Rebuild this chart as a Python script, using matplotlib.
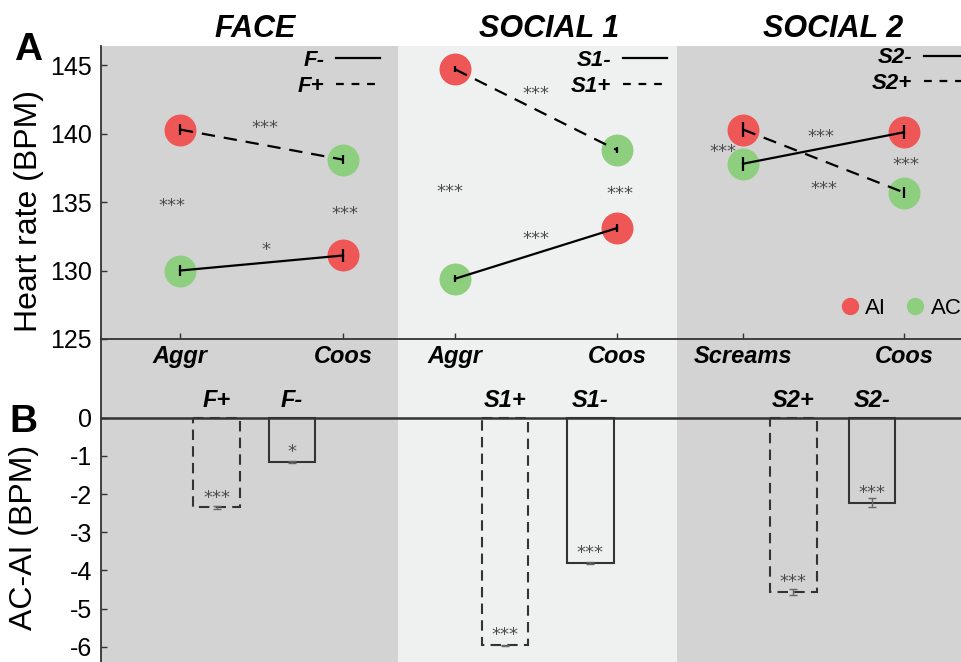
import matplotlib.pyplot as plt
import matplotlib.transforms as mtransforms
from matplotlib.lines import Line2D
from matplotlib.patches import Rectangle

plt.rcParams['font.family'] = ['Liberation Sans', 'DejaVu Sans']
plt.rcParams['axes.unicode_minus'] = False

# heart rate per stimulus (two stimuli per condition)
conditions = ['FACE', 'SOCIAL 1', 'SOCIAL 2']
short = ['F', 'S1', 'S2']
stim_labels = ['Aggr', 'Coos', 'Aggr', 'Coos', 'Screams', 'Coos']
hr_ai = [140.3, 131.1, 144.7, 133.1, 140.3, 140.1]
hr_ai_err = [0.37, 0.5, 0.22, 0.27, 0.55, 0.5]
hr_ac = [130.0, 138.1, 129.4, 138.8, 137.8, 135.7]
hr_ac_err = [0.37, 0.33, 0.25, 0.25, 0.5, 0.43]

# AC-AI differences
diff_plus = [-2.35, -5.96, -4.57]
diff_plus_err = [0.03, 0.01, 0.08]
diff_minus = [-1.15, -3.80, -2.23]
diff_minus_err = [0.03, 0.03, 0.12]
sig_plus = ['***', '***', '***']
sig_minus = ['*', '***', '***']

# significance marks in panel A: (x, y, text)
stars_a = [(1.64, 140.84, '***'), (0.71, 135.13, '***'), (2.44, 134.55, '***'), (1.65, 131.91, '*'),
           (4.35, 143.32, '***'), (3.49, 136.16, '***'), (5.19, 136.01, '***'), (4.35, 132.72, '***'),
           (7.20, 140.13, '***'), (6.22, 139.03, '***'), (8.05, 138.13, '***'), (7.23, 136.38, '***')]

# layout
xpos = [0.79, 2.42, 3.54, 5.16, 6.42, 8.03]
bar_plus_x = [1.155, 4.04, 6.923]
bar_minus_x = [1.91, 4.893, 7.712]
bar_w = 0.465
title_x = [1.54, 4.48, 7.32]
block_edges = [0, 2.97, 5.76, 8.7]
block_colors = ['#d3d3d3', '#eff0f0', '#d3d3d3']
legend_anchor = [(2.79, 146.1), (5.66, 146.1), (8.67, 146.3)]

red = '#ef5656'
green = '#8dcf7e'
dark = '#333333'
star_color = '#4d4d4d'

W, H = 961, 662
fig = plt.figure(figsize=(W / 100, H / 100), dpi=100)
axA = fig.add_axes([101 / W, (H - 339) / H, 860 / W, 293 / H])
axB = fig.add_axes([101 / W, 0, 860 / W, 322 / H], sharex=axA)
for ax in (axA, axB):
    ax.set_facecolor('none')
    for s in ('top', 'right', 'bottom'):
        ax.spines[s].set_visible(False)
    ax.spines['left'].set_color(dark)
    ax.spines['left'].set_linewidth(1.3)
    ax.tick_params(axis='y', direction='in', length=4, width=1.0, color=dark, labelsize=18, pad=6.5)
axA.spines['bottom'].set_visible(True)
axA.spines['bottom'].set_color(dark)
axA.spines['bottom'].set_linewidth(1.3)

axA.set_xlim(0, 8.6)
axA.set_ylim(125, 146.4)
axB.set_ylim(-6.4, 2.04)

# condition backgrounds across both panels
blend = mtransforms.blended_transform_factory(axA.transData, fig.transFigure)
for i, c in enumerate(block_colors):
    fig.add_artist(Rectangle((block_edges[i], 0), block_edges[i + 1] - block_edges[i], (H - 46) / H,
                             transform=blend, facecolor=c, edgecolor='none', zorder=-5))


def stars(ax, x, y, s):
    ax.annotate(s, (x, y), xytext=(0, -7.5), textcoords='offset points', ha='center', va='baseline',
                color=star_color, fontsize=13, family='DejaVu Sans')


# panel A
for i in range(3):
    a, c = 2 * i, 2 * i + 1
    axA.plot([xpos[a], xpos[c]], [hr_ai[a], hr_ac[c]], color='k', lw=1.6, dashes=(6, 4), zorder=3)
    axA.plot([xpos[a], xpos[c]], [hr_ac[a], hr_ai[c]], color='k', lw=1.6, zorder=3)
axA.plot(xpos, hr_ai, 'o', ls='none', ms=23, color=red, mec='none', zorder=2)
axA.plot(xpos, hr_ac, 'o', ls='none', ms=23, color=green, mec='none', zorder=2)
axA.errorbar(xpos, hr_ai, yerr=hr_ai_err, fmt='none', ecolor='k', elinewidth=1.6, capsize=0, zorder=4)
axA.errorbar(xpos, hr_ac, yerr=hr_ac_err, fmt='none', ecolor='k', elinewidth=1.6, capsize=0, zorder=4)

for x, y, s in stars_a:
    stars(axA, x, y, s)

axA.set_yticks([125, 130, 135, 140, 145])
axA.set_xticks(xpos, stim_labels, fontweight='bold', fontstyle='italic', fontsize=17)
axA.tick_params(axis='x', direction='in', length=4, width=1, color=dark, pad=4)

for i, cond in enumerate(conditions):
    axA.text(title_x[i], 147.06, cond, ha='center', va='baseline', fontsize=22,
             fontweight='bold', fontstyle='italic', clip_on=False)
    handles = [Line2D([], [], color='k', lw=1.6), Line2D([], [], color='k', lw=1.6, dashes=(3.5, 3.5))]
    leg = axA.legend(handles, [short[i] + '-', short[i] + '+'], loc='upper right',
                     bbox_to_anchor=legend_anchor[i], bbox_transform=axA.transData, frameon=False,
                     markerfirst=False, prop=dict(weight='bold', style='italic', size=16),
                     handlelength=2.0, handletextpad=0.5, labelspacing=0.2, borderpad=0, borderaxespad=0)
    axA.add_artist(leg)

group_handles = [Line2D([], [], marker='o', ls='none', ms=12.5, color=red, mec='none'),
                 Line2D([], [], marker='o', ls='none', ms=12.5, color=green, mec='none')]
axA.legend(group_handles, ['AI', 'AC'], loc='center left', bbox_to_anchor=(7.4, 127.23),
           bbox_transform=axA.transData, frameon=False, ncol=2, fontsize=16, handlelength=0.8,
           handletextpad=0.3, columnspacing=0.9, borderpad=0, borderaxespad=0)

# panel B
axB.axhline(0, color=dark, lw=1.8, zorder=3)
axB.bar(bar_plus_x, diff_plus, width=bar_w, fill=False, edgecolor=dark, lw=1.5, linestyle=(0, (5, 3)))
axB.bar(bar_minus_x, diff_minus, width=bar_w, fill=False, edgecolor=dark, lw=1.5)
axB.errorbar(bar_plus_x, diff_plus, yerr=diff_plus_err, fmt='none', ecolor='#666666', elinewidth=1, capsize=3)
axB.errorbar(bar_minus_x, diff_minus, yerr=diff_minus_err, fmt='none', ecolor='#666666', elinewidth=1, capsize=3)
for i in range(3):
    for x, v, s, lab in ((bar_plus_x[i], diff_plus[i], sig_plus[i], short[i] + '+'),
                         (bar_minus_x[i], diff_minus[i], sig_minus[i], short[i] + '-')):
        stars(axB, x, v + 0.4, s)
        axB.text(x, 0.45, lab, ha='center', va='center', fontsize=17, fontweight='bold', fontstyle='italic')
axB.set_yticks([0, -1, -2, -3, -4, -5, -6])
axB.tick_params(axis='x', bottom=False, labelbottom=False)

fig.text(37 / W, 1 - 211 / H, 'Heart rate (BPM)', rotation=90, rotation_mode='anchor',
         ha='center', va='baseline', fontsize=23)
fig.text(32 / W, 1 - 537 / H, 'AC-AI (BPM)', rotation=90, rotation_mode='anchor',
         ha='center', va='baseline', fontsize=23)
fig.text(28 / W, 1 - 60 / H, 'A', ha='center', va='baseline', fontsize=28, fontweight='bold')
fig.text(23 / W, 1 - 432 / H, 'B', ha='center', va='baseline', fontsize=28, fontweight='bold')

fig.savefig('out.png', dpi=100)
